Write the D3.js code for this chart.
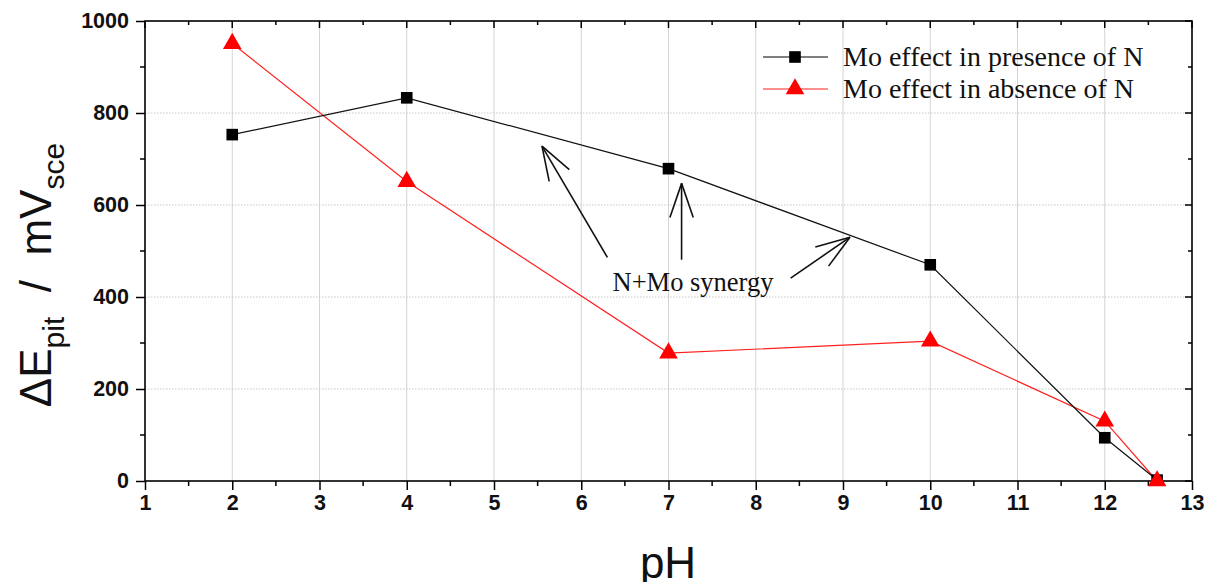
<!DOCTYPE html>
<html><head><meta charset="utf-8">
<script src="https://cdn.jsdelivr.net/npm/d3@7"></script>
<style>body{margin:0;background:#fff}svg{display:block}</style>
</head><body>
<svg id="c" width="1215" height="582"></svg>
<script>
const pH = [2, 4, 7, 10, 12, 12.6];
const withN = [753, 833, 679, 470, 94, 2];
const withoutN = [951, 651, 278, 304, 130, 0];
const seriesNames = ["Mo effect in presence of N", "Mo effect in absence of N"];
const xTicks = [1,2,3,4,5,6,7,8,9,10,11,12,13];
const yTicks = [0,200,400,600,800,1000];
const annotationText = "N+Mo synergy";
// arrows in data units: [fromX, fromY, toX, toY]
const arrows = [[6.30, 486, 5.55, 728], [7.15, 481, 7.15, 647], [8.40, 441, 9.08, 530]];

const svg = d3.select("#c");
const m = {l:145, r:1192, t:21, b:481};
const x = d3.scaleLinear().domain([1,13]).range([m.l, m.r]);
const y = d3.scaleLinear().domain([0,1000]).range([m.b, m.t]);

// grid
const g = svg.append("g");
g.selectAll(".vg").data(d3.range(2,13)).join("line")
  .attr("x1", d=>x(d)).attr("x2", d=>x(d)).attr("y1", m.t).attr("y2", m.b)
  .attr("stroke", "#d4d4d4").attr("stroke-width", 1);
g.selectAll(".hg").data([200,400,600,800]).join("line")
  .attr("x1", m.l).attr("x2", m.r).attr("y1", d=>y(d)).attr("y2", d=>y(d))
  .attr("stroke", "#c8c8c8").attr("stroke-width", 1).attr("stroke-dasharray", "1.5,1.5");

// axes
const font = "Arial, 'Liberation Sans', sans-serif";
const serif = "'Liberation Serif', 'Times New Roman', serif";
const xAxis = d3.axisBottom(x).tickValues(xTicks).tickSize(9).tickPadding(5).tickFormat(d3.format("d"));
const xa = svg.append("g").attr("transform", `translate(0,${m.b})`).call(xAxis);
const yAxis = d3.axisLeft(y).tickValues(yTicks).tickSize(9).tickPadding(7).tickFormat(d3.format("d"));
const ya = svg.append("g").attr("transform", `translate(${m.l},0)`).call(yAxis);
[xa, ya].forEach(a => {
  a.select(".domain").remove();
  a.selectAll("line").attr("stroke", "#000").attr("stroke-width", 1.5);
  a.selectAll("text").attr("font-family", font).attr("font-weight", "bold").attr("font-size", 21.5).attr("fill", "#111");
});
// minor ticks
svg.append("g").selectAll("line").data(d3.range(1.5,13,1)).join("line")
  .attr("x1", d=>x(d)).attr("x2", d=>x(d)).attr("y1", m.b).attr("y2", m.b+5).attr("stroke","#000").attr("stroke-width",1.5);
svg.append("g").selectAll("line").data(d3.range(100,1000,200)).join("line")
  .attr("y1", d=>y(d)).attr("y2", d=>y(d)).attr("x1", m.l-5).attr("x2", m.l).attr("stroke","#000").attr("stroke-width",1.5);
// top & right mirror ticks
svg.append("g").selectAll("line").data(d3.range(1,13.01,0.5)).join("line")
  .attr("x1", d=>x(d)).attr("x2", d=>x(d)).attr("y1", m.t).attr("y2", d=> m.t + (d%1===0?7:4)).attr("stroke","#000").attr("stroke-width",1.5);
svg.append("g").selectAll("line").data(d3.range(0,1001,100)).join("line")
  .attr("y1", d=>y(d)).attr("y2", d=>y(d)).attr("x1", d=> m.r - (d%200===0?7:4)).attr("x2", m.r).attr("stroke","#000").attr("stroke-width",1.5);
// frame
svg.append("rect").attr("x", m.l).attr("y", m.t).attr("width", m.r-m.l).attr("height", m.b-m.t)
  .attr("fill","none").attr("stroke","#000").attr("stroke-width",1.6);

// series
const line = d3.line().x(d=>x(d[0])).y(d=>y(d[1]));
const dN = pH.map((v,i)=>[v, withN[i]]);
const dW = pH.map((v,i)=>[v, withoutN[i]]);
svg.append("path").datum(dW).attr("d", line).attr("fill","none").attr("stroke","#ff2020").attr("stroke-width",1.2);
svg.append("path").datum(dN).attr("d", line).attr("fill","none").attr("stroke","#111").attr("stroke-width",1.2);
const tri = d3.symbol().type(d3.symbolTriangle).size(150);
const sq = d3.symbol().type(d3.symbolSquare).size(135);
svg.append("g").selectAll("path").data(dN).join("path").attr("d", sq)
  .attr("transform", d=>`translate(${x(d[0])},${y(d[1])})`).attr("fill","#000");
svg.append("g").selectAll("path").data(dW).join("path").attr("d", tri)
  .attr("transform", d=>`translate(${x(d[0])},${y(d[1])})`).attr("fill","#f00");

// legend
const lg = svg.append("g");
const lRows = [{y:57, c:"#000", s:sq, f:"#000"}, {y:89, c:"#ff2020", s:tri, f:"#f00"}];
lRows.forEach((r,i) => {
  lg.append("line").attr("x1", 763).attr("x2", 828).attr("y1", r.y).attr("y2", r.y).attr("stroke", r.c).attr("stroke-width", 1.2);
  lg.append("path").attr("d", r.s).attr("transform", `translate(795,${r.y})`).attr("fill", r.f);
  lg.append("text").attr("x", 843).attr("y", r.y+9).text(seriesNames[i])
    .attr("font-family", serif).attr("font-size", 28).attr("fill","#111");
});

// annotation
svg.append("text").attr("x", 693).attr("y", 291).attr("text-anchor","middle").text(annotationText)
  .attr("font-family", serif).attr("font-size", 26.5).attr("fill","#111");
arrows.forEach(a => {
  const x1=x(a[0]), y1=y(a[1]), x2=x(a[2]), y2=y(a[3]);
  const ang = Math.atan2(y2-y1, x2-x1);
  const L = 36, sp = 0.33;
  const ag = svg.append("g").attr("stroke","#111").attr("stroke-width",1.6).attr("fill","none");
  ag.append("line").attr("x1",x1).attr("y1",y1).attr("x2",x2).attr("y2",y2);
  [sp,-sp].forEach(s => {
    ag.append("line").attr("x1",x2).attr("y1",y2)
      .attr("x2", x2 - L*Math.cos(ang+s)).attr("y2", y2 - L*Math.sin(ang+s));
  });
});

// axis titles
svg.append("text").attr("x", 668).attr("y", 578).attr("text-anchor","middle")
  .attr("font-family", font).attr("font-size", 44).attr("fill","#111").text("pH");
const yt = svg.append("text").attr("transform", "translate(51,275) rotate(-90)").attr("text-anchor","middle")
  .attr("font-family", font).attr("font-size", 44).attr("fill","#111");
yt.append("tspan").text("ΔE");
yt.append("tspan").attr("font-size", 30).attr("dy", 13).text("pit");
yt.append("tspan").attr("dy", -13).text("\u00a0\u00a0/\u00a0\u00a0mV");
yt.append("tspan").attr("font-size", 30).attr("dy", 13).text("sce");
</script>
</body></html>
